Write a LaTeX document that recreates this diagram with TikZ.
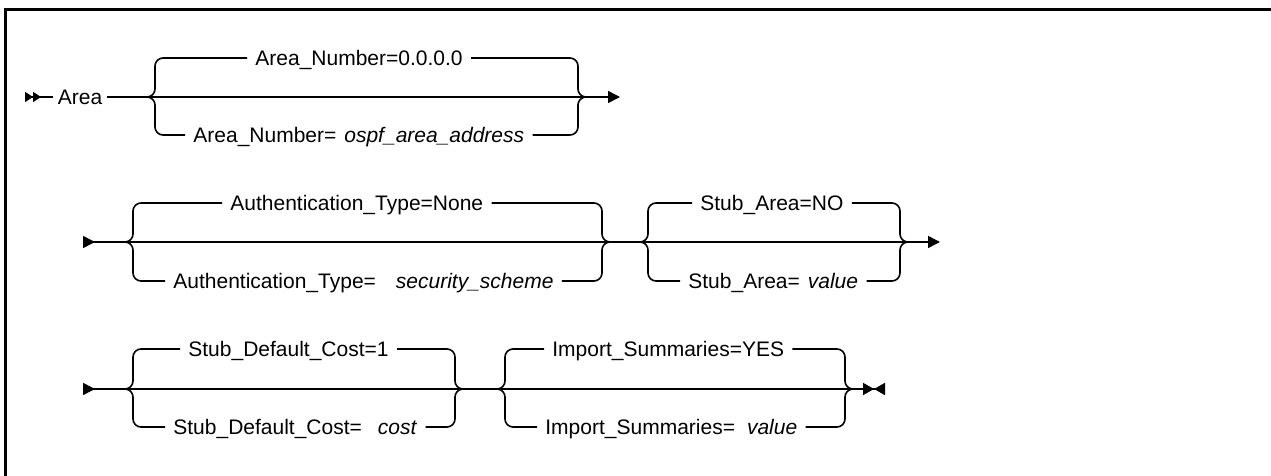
\documentclass[tikz,border=0pt]{standalone}
\usepackage{fontspec}
\setmainfont{Liberation Sans}
\usepackage{tikz}
\usetikzlibrary{arrows.meta}

\begin{document}
\begin{tikzpicture}[x=0.5pt, y=-0.5pt,
  rail/.style={line width=0.8pt, rounded corners=4pt},
  lbl/.style={anchor=west, inner xsep=4pt, inner ysep=0pt, text height=7.5pt, text depth=0pt, font=\fontsize{10.5}{12}\selectfont},
  railfirst/.style={{Triangle[reversed,length=4pt,width=5pt,sep=0pt]Triangle[reversed,length=4pt,width=5pt,sep=0pt]}-},
  railstart/.style={{Triangle[reversed,length=6pt,width=6pt]}-},
  railhead/.style={-{Triangle[length=6pt,width=6pt]}},
  railstop/.style={-{Triangle[length=5.5pt,width=6pt,sep=0pt]Triangle[reversed,length=5.5pt,width=6pt,sep=0pt]}}]
\useasboundingbox (0,0) rectangle (1271,476);
% Frame
\draw[line width=1.5pt] (5.5,476) -- (5.5,9.5) -- (1271,9.5);

% Row 1: Area
\coordinate (r1start) at (25,97);
\node[lbl, inner xsep=2.25pt] (area) at (53,97) {Area};
\coordinate (g1in) at (147,97);
\coordinate (g1out) at (586,97);
\coordinate (r1end) at (620,97);
\node[lbl] (g1a) at (247,58) {Area\_Number=0.0.0.0\hspace{4.5pt}};
\node[lbl] (g1b) at (185,135) {Area\_Number=\hspace{4pt}\textit{ospf\_area\_address}\hspace{3pt}};
\draw[rail, railfirst] (r1start) -- (area.west);
\draw[rail] (area.east) -- (g1in);
\draw[rail] (g1in) -- (g1out)
  (g1in) -- ([xshift=4pt]g1in) |- (g1a.west)
  (g1a.east) -| ([xshift=-4pt]g1out) -- (g1out)
  (g1in) -- ([xshift=4pt]g1in) |- (g1b.west)
  (g1b.east) -| ([xshift=-4pt]g1out) -- (g1out);
\draw[rail, railhead] (g1out) -- (r1end);

% Row 2: Authentication_Type, Stub_Area
\coordinate (r2start) at (83,242);
\coordinate (g2in) at (125,242);
\coordinate (g2out) at (610,242);
\coordinate (g3in) at (640,242);
\coordinate (g3out) at (908,242);
\coordinate (r2end) at (940,242);
\node[lbl] (g2a) at (222,203) {Authentication\_Type=None\hspace{10pt}};
\node[lbl] (g2b) at (165,281) {Authentication\_Type=\hspace{10pt}\textit{security\_scheme}\hspace{5pt}};
\node[lbl] (g3a) at (692,203) {Stub\_Area=NO\hspace{3pt}};
\node[lbl] (g3b) at (680,281) {Stub\_Area=\hspace{4pt}\textit{value}\hspace{2.5pt}};
\draw[rail, railstart] (r2start) -- (g2in);
\draw[rail] (g2in) -- (g2out)
  (g2in) -- ([xshift=4pt]g2in) |- (g2a.west)
  (g2a.east) -| ([xshift=-4pt]g2out) -- (g2out)
  (g2in) -- ([xshift=4pt]g2in) |- (g2b.west)
  (g2b.east) -| ([xshift=-4pt]g2out) -- (g2out);
\draw[rail] (g2out) -- (g3in);
\draw[rail] (g3in) -- (g3out)
  (g3in) -- ([xshift=4pt]g3in) |- (g3a.west)
  (g3a.east) -| ([xshift=-4pt]g3out) -- (g3out)
  (g3in) -- ([xshift=4pt]g3in) |- (g3b.west)
  (g3b.east) -| ([xshift=-4pt]g3out) -- (g3out);
\draw[rail, railhead] (g3out) -- (r2end);

% Row 3: Stub_Default_Cost, Import_Summaries
\coordinate (r3start) at (83,389);
\coordinate (g4in) at (125,389);
\coordinate (g4out) at (463,389);
\coordinate (g5in) at (497,389);
\coordinate (g5out) at (853,389);
\coordinate (r3end) at (885,389);
\node[lbl] (g4a) at (180,349) {Stub\_Default\_Cost=1\hspace{7pt}};
\node[lbl] (g4b) at (165,427) {Stub\_Default\_Cost=\hspace{8pt}\textit{cost}};
\node[lbl] (g5a) at (544,349) {Import\_Summaries=YES\hspace{7.5pt}};
\node[lbl] (g5b) at (537,427) {Import\_Summaries=\hspace{6pt}\textit{value}\hspace{5pt}};
\draw[rail, railstart] (r3start) -- (g4in);
\draw[rail] (g4in) -- (g4out)
  (g4in) -- ([xshift=4pt]g4in) |- (g4a.west)
  (g4a.east) -| ([xshift=-4pt]g4out) -- (g4out)
  (g4in) -- ([xshift=4pt]g4in) |- (g4b.west)
  (g4b.east) -| ([xshift=-4pt]g4out) -- (g4out);
\draw[rail] (g4out) -- (g5in);
\draw[rail] (g5in) -- (g5out)
  (g5in) -- ([xshift=4pt]g5in) |- (g5a.west)
  (g5a.east) -| ([xshift=-4pt]g5out) -- (g5out)
  (g5in) -- ([xshift=4pt]g5in) |- (g5b.west)
  (g5b.east) -| ([xshift=-4pt]g5out) -- (g5out);
\draw[rail, railstop] (g5out) -- (r3end);
\end{tikzpicture}
\end{document}
